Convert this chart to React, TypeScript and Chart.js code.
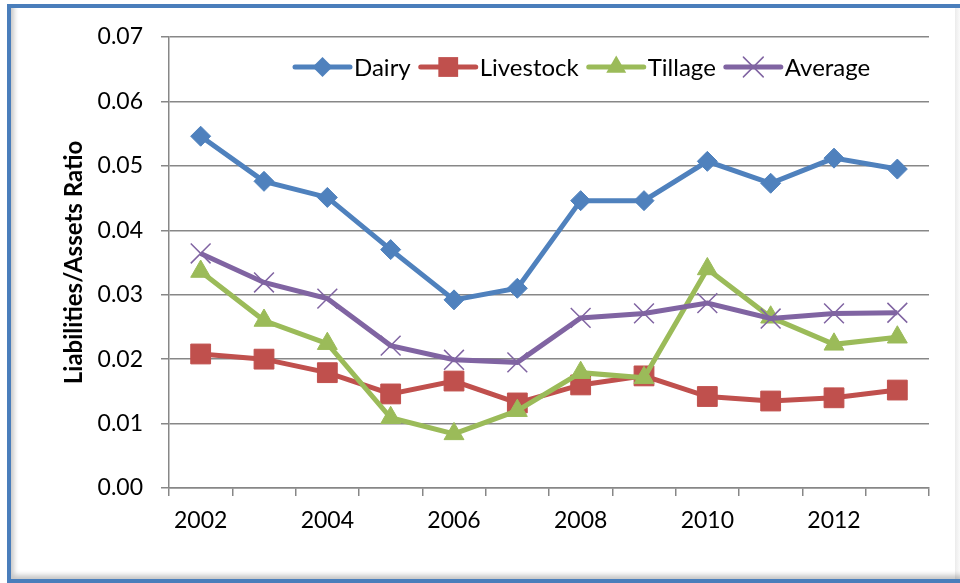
import React, { useEffect, useRef } from 'react';
import { Chart, registerables } from 'chart.js';

Chart.register(...registerables);

// ---- data ----
const years = ['2002', '2003', '2004', '2005', '2006', '2007', '2008', '2009', '2010', '2011', '2012', '2013'];
const yearLabelsShown = ['2002', '', '2004', '', '2006', '', '2008', '', '2010', '', '2012', ''];
const dairy = [0.0546, 0.0476, 0.0451, 0.0370, 0.0292, 0.0310, 0.0446, 0.0446, 0.0507, 0.0473, 0.0512, 0.0495];
const livestock = [0.0208, 0.0200, 0.0179, 0.0146, 0.0166, 0.0132, 0.0160, 0.0174, 0.0142, 0.0135, 0.0140, 0.0152];
const tillage = [0.0336, 0.0260, 0.0224, 0.0109, 0.0084, 0.0120, 0.0179, 0.0171, 0.0340, 0.0265, 0.0223, 0.0234];
const average = [0.0364, 0.0319, 0.0294, 0.0221, 0.0199, 0.0195, 0.0264, 0.0271, 0.0287, 0.0263, 0.0271, 0.0272];
const yMin = 0;
const yMax = 0.07;
const yStep = 0.01;
const yTitle = 'Liabilities/Assets Ratio';

const FONT = 'Lato';
const GRID = '#878787';

function drawMarker(ctx: CanvasRenderingContext2D, style: string, x: number, y: number, r: number, color: string) {
  ctx.save();
  ctx.fillStyle = color;
  ctx.strokeStyle = color;
  ctx.beginPath();
  if (style === 'rectRot') {
    ctx.moveTo(x, y - r);
    ctx.lineTo(x + r, y);
    ctx.lineTo(x, y + r);
    ctx.lineTo(x - r, y);
    ctx.closePath();
    ctx.fill();
  } else if (style === 'rect') {
    const s = r * Math.SQRT1_2;
    ctx.rect(x - s, y - s, 2 * s, 2 * s);
    ctx.fill();
  } else if (style === 'triangle') {
    for (let k = 0; k < 3; k++) {
      const a = -Math.PI / 2 + (k * 2 * Math.PI) / 3;
      const px = x + Math.cos(a) * r;
      const py = y + Math.sin(a) * r;
      if (k === 0) ctx.moveTo(px, py);
      else ctx.lineTo(px, py);
    }
    ctx.closePath();
    ctx.fill();
  } else if (style === 'crossRot') {
    const s = r * Math.SQRT1_2;
    ctx.lineWidth = 1.5;
    ctx.moveTo(x - s, y - s);
    ctx.lineTo(x + s, y + s);
    ctx.moveTo(x - s, y + s);
    ctx.lineTo(x + s, y - s);
    ctx.stroke();
  }
  ctx.restore();
}

const lineLegend = {
  id: 'lineLegend',
  afterDraw(chart: any) {
    const ctx: CanvasRenderingContext2D = chart.ctx;
    let x = 295;
    const y = 67;
    ctx.save();
    ctx.font = `24px ${FONT}`;
    ctx.textBaseline = 'middle';
    ctx.textAlign = 'left';
    chart.data.datasets.forEach((ds: any) => {
      ctx.strokeStyle = ds.borderColor;
      ctx.lineWidth = 5;
      ctx.lineCap = 'round';
      ctx.beginPath();
      ctx.moveTo(x, y);
      ctx.lineTo(x + 55, y);
      ctx.stroke();
      drawMarker(ctx, ds.pointStyle, x + 27.5, y, ds.pointRadius, ds.borderColor);
      ctx.fillStyle = '#000';
      ctx.fillText(ds.label, x + 59, y + 1);
      x += 59 + ctx.measureText(ds.label).width + 10;
    });
    ctx.restore();
  },
};

function LineChart() {
  const ref = useRef<HTMLCanvasElement | null>(null);
  useEffect(() => {
    if (!ref.current) return;
    const mk = (label: string, data: number[], color: string, style: string, r: number, order: number) => ({
      label,
      data,
      borderColor: color,
      backgroundColor: color,
      pointBackgroundColor: color,
      pointBorderColor: color,
      pointStyle: style,
      pointRadius: r,
      pointHoverRadius: r,
      pointBorderWidth: style === 'crossRot' ? 1.5 : 1,
      borderWidth: 5,
      tension: 0,
      order,
      clip: false as any,
    });
    const chart = new Chart(ref.current, {
      type: 'line',
      data: {
        labels: years,
        datasets: [
          mk('Dairy', dairy, '#4F81BD', 'rectRot', 10, 3),
          mk('Livestock', livestock, '#C0504D', 'rect', 14, 2),
          mk('Tillage', tillage, '#9BBB59', 'triangle', 11.5, 1),
          mk('Average', average, '#8064A2', 'crossRot', 14, 0),
        ],
      },
      options: {
        animation: false,
        responsive: false,
        maintainAspectRatio: false,
        layout: { padding: { left: 0, top: 37, right: 31, bottom: 0 } },
        plugins: { legend: { display: false }, tooltip: { enabled: false }, title: { display: false } },
        scales: {
          x: {
            type: 'category',
            offset: true,
            grid: { offset: true, drawOnChartArea: false, drawTicks: true, tickLength: 8, color: GRID, lineWidth: 1.5 },
            border: { display: true, color: GRID, width: 1.5 },
            ticks: {
              autoSkip: false,
              maxRotation: 0,
              padding: 11,
              color: '#000',
              font: { family: FONT, size: 23 },
              callback: (_v: any, i: number) => yearLabelsShown[i],
            },
            afterFit: (s: any) => {
              s.height = 583 - 488;
            },
          },
          y: {
            min: yMin,
            max: yMax,
            grid: { color: GRID, lineWidth: 1.5, tickLength: 8, drawTicks: true },
            border: { display: true, color: GRID, width: 1.5 },
            ticks: {
              stepSize: yStep,
              padding: 18,
              color: '#000',
              font: { family: FONT, size: 23 },
              callback: (v: any) => Number(v).toFixed(2),
            },
            title: {
              display: true,
              text: yTitle,
              color: '#000',
              font: { family: FONT, size: 24, weight: 'bold' },
              padding: { top: 60, bottom: 0 },
            },
            afterFit: (s: any) => {
              s.width = 169;
            },
          },
        },
      },
      plugins: [lineLegend],
    } as any);
    return () => chart.destroy();
  }, []);
  return (
    <canvas
      ref={ref}
      width={960}
      height={583}
      style={{ position: 'absolute', left: 0, top: 0, width: 960, height: 583, zIndex: 1 }}
    />
  );
}

export default function App() {
  useEffect(() => {
    document.body.style.margin = '0';
    document.body.style.overflow = 'hidden';
  }, []);
  return (
    <div style={{ position: 'relative', width: 960, height: 583, overflow: 'hidden', background: '#fff' }}>
      <div
        style={{
          position: 'absolute',
          left: 7,
          top: 4,
          width: 960,
          height: 579,
          boxSizing: 'border-box',
          borderLeft: '4px solid #4A7EBB',
          borderTop: '4px solid #4A7EBB',
          borderBottom: '4px solid #4A7EBB',
          background: '#fff',
          boxShadow: 'inset 4px -5px 5px -1px rgba(0,0,0,0.22)',
        }}
      />
      <div
        style={{
          position: 'absolute',
          left: 955,
          top: 8,
          width: 5,
          height: 571,
          background: 'linear-gradient(to right, rgba(0,0,0,0.08), rgba(0,0,0,0.02))',
        }}
      />
      <LineChart />
    </div>
  );
}
